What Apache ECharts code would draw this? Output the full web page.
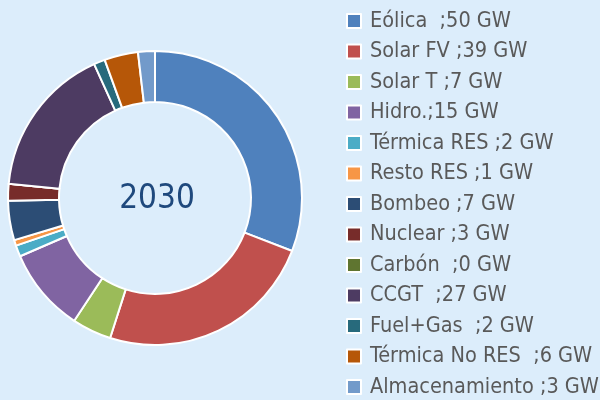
<!DOCTYPE html>
<html>
<head>
<meta charset="utf-8">
<script src="https://cdn.jsdelivr.net/npm/echarts@6/dist/echarts.min.js"></script>
<style>
html, body { margin: 0; padding: 0; background: #dcedfb; }
#chart { width: 600px; height: 400px; }
</style>
</head>
<body>
<div id="chart"></div>
<script>
var names = ['Eólica  ', 'Solar FV ', 'Solar T ', 'Hidro.', 'Térmica RES ', 'Resto RES ', 'Bombeo ', 'Nuclear ', 'Carbón  ', 'CCGT  ', 'Fuel+Gas  ', 'Térmica No RES  ', 'Almacenamiento '];
var values = [50, 39, 7, 15, 2, 1, 7, 3, 0, 27, 2, 6, 3];
var colors = ['#4f81bd', '#c0504d', '#9bbb59', '#8064a2', '#4bacc6', '#f79646', '#2c4d75', '#772c2a', '#5f7530', '#4d3b62', '#276a7c', '#b65708', '#729aca'];
var year = '2030';

var font = '"Liberation Sans Narrow", "DejaVu Sans Condensed", sans-serif';

var myChart = echarts.init(document.getElementById('chart'));
var data = names.map(function (n, i) {
	return { name: n, value: values[i], itemStyle: { color: colors[i] } };
});

var option = {
	backgroundColor: '#dcedfb',
	title: {
		text: year,
		left: 152,
		top: 178,
		textAlign: 'center',
		textStyle: {
			fontFamily: font,
			fontSize: 33,
			fontWeight: 'normal',
			color: '#1f497d'
		}
	},
	legend: {
		orient: 'vertical',
		left: 346,
		top: 10,
		height: 390,
		padding: 0,
		itemWidth: 14,
		itemHeight: 14,
		itemGap: 8.5,
		icon: 'rect',
		itemStyle: { borderColor: '#fff', borderWidth: 2 },
		formatter: function (name) {
			return name + ';' + values[names.indexOf(name)] + ' GW';
		},
		textStyle: {
			fontFamily: font,
			fontSize: 21.5,
			color: '#595959',
			padding: [0, 0, 0, 4]
		}
	},
	series: [{
		type: 'pie',
		center: [155, 198],
		radius: [96, 147],
		startAngle: 90,
		clockwise: true,
		avoidLabelOverlap: false,
		label: { show: false },
		labelLine: { show: false },
		itemStyle: { borderColor: '#fff', borderWidth: 2 },
		emphasis: { disabled: true },
		data: data
	}]
};

myChart.setOption(option);
</script>
</body>
</html>
